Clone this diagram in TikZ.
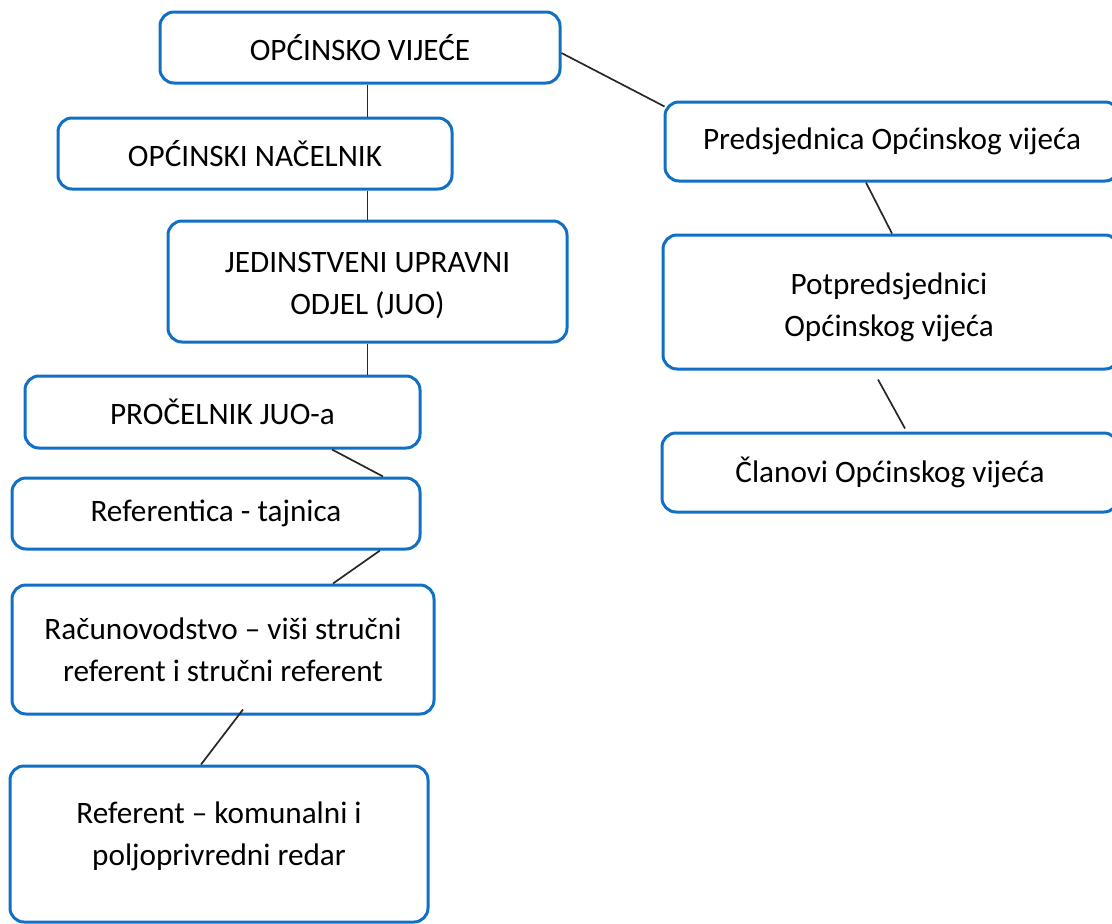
\documentclass[tikz,border=0pt]{standalone}
\usepackage{fontspec}
\setmainfont{Carlito}
\usetikzlibrary{calc}
\definecolor{boxblue}{RGB}{18,112,196}
\definecolor{linegray}{RGB}{40,40,40}
\begin{document}
\begin{tikzpicture}[x=1pt,y=-1pt,
  box/.style={draw=boxblue, line width=3pt, rounded corners=14pt, fill=white,
    align=center, inner sep=0pt, font=\fontsize{31.2}{42}\selectfont},
  conn/.style={draw=linegray, line width=1.7pt},
  txt/.style={align=center, inner sep=0pt, font=\fontsize{31.2}{42}\selectfont}]
\useasboundingbox (0,0) rectangle (1112,924);
% left column
\node[box, minimum width=400, minimum height=71] (b1) at (360,47.5) {OPĆINSKO VIJEĆE};
\node[box, minimum width=394, minimum height=71] (b2) at (255,153.5) {OPĆINSKI NAČELNIK};
\node[box, minimum width=399, minimum height=121] (b3) at (367.5,281.5) {};
\node[txt] (b3t) at (367.5,286) {JEDINSTVENI UPRAVNI\\ODJEL (JUO)};
\node[box, minimum width=395, minimum height=72] (b4) at (222.5,412) {PROČELNIK JUO-a};
\node[box, minimum width=408, minimum height=71] (b5) at (216,513.5) {Referentica - tajnica};
\node[box, minimum width=422, minimum height=129] (b6) at (223,649.5) {Računovodstvo – viši stručni\\referent i stručni referent};
\node[box, minimum width=418, minimum height=156] (b7) at (219,844) {};
\node[txt] (b7t) at (219,836) {Referent – komunalni i\\poljoprivredni redar};
% right column
\node[box, minimum width=454, minimum height=79] (r1) at (892,141.5) {Predsjednica Općinskog vijeća};
\node[box, minimum width=456, minimum height=134] (r2) at (891,302) {};
\node[txt] (r2t) at (889,307) {Potpredsjednici\\Općinskog vijeća};
\node[box, minimum width=456, minimum height=79] (r3) at (890,472.5) {Članovi Općinskog vijeća};
% connectors
\draw[conn] (b1.south -| b3.north) -- (b2.north -| b3.north);
\draw[conn] (b2.south -| b3.north) -- (b3.north);
\draw[conn] (b3.south) -- (b4.north -| b3.south);
\draw[conn] ($(b4.south)+(109.5,0)$) -- ($(b5.north)+(167,0)$);
\draw[conn] ($(b5.south)+(164,0)$) -- ($(b6.north)+(110,0)$);
\draw[conn] ($(b6.south)+(20,-6)$) -- ($(b7.north)+(-18,0)$);
\draw[conn] ($(b1.east)+(0,5.5)$) -- ($(r1.north west)+(1,6)$);
\draw[conn] ($(r1.south)+(-26,0)$) -- ($(r2.north)+(1,0)$);
\draw[conn] ($(r2.south)+(-13,9)$) -- ($(r3.north)+(15,-3)$);
\end{tikzpicture}
\end{document}
